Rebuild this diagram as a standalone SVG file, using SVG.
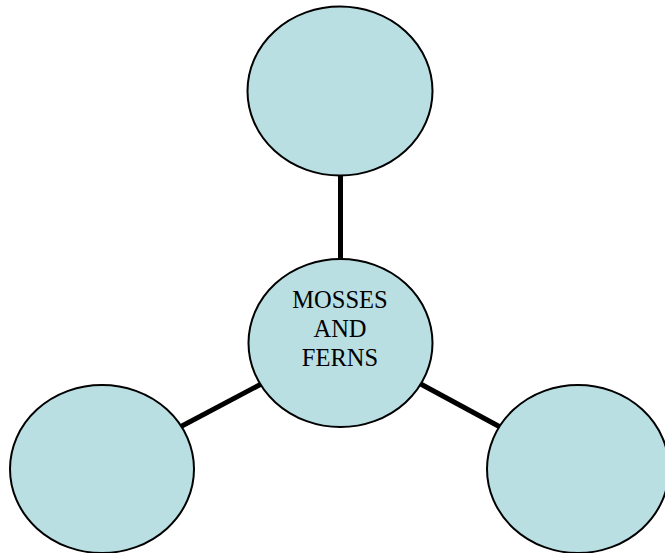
<svg xmlns="http://www.w3.org/2000/svg" width="665" height="553" viewBox="0 0 665 553">
<style>
.node{fill:#B9DFE3;stroke:#000;stroke-width:2}
.conn{stroke:#000;stroke-width:5;fill:none}
.lbl{font-family:"Liberation Serif","Times New Roman",serif;font-size:24.5px;fill:#000;text-anchor:middle}
</style>
<rect width="665" height="553" fill="#fff"/>
<g id="connectors">
<line class="conn" x1="340.5" y1="170" x2="340.5" y2="262"/>
<line class="conn" x1="180" y1="427" x2="265" y2="382"/>
<line class="conn" x1="417" y1="382" x2="502" y2="428"/>
</g>
<g id="node-top"><ellipse class="node" cx="340" cy="91" rx="92.5" ry="84.5"/></g>
<g id="node-center">
<ellipse class="node" cx="340.5" cy="343" rx="92" ry="84"/>
<text class="lbl" x="340" y="308">MOSSES</text>
<text class="lbl" x="340" y="337">AND</text>
<text class="lbl" x="340" y="366">FERNS</text>
</g>
<g id="node-left"><ellipse class="node" cx="102" cy="469" rx="92" ry="84"/></g>
<g id="node-right"><ellipse class="node" cx="578" cy="469" rx="91" ry="84"/></g>
</svg>
